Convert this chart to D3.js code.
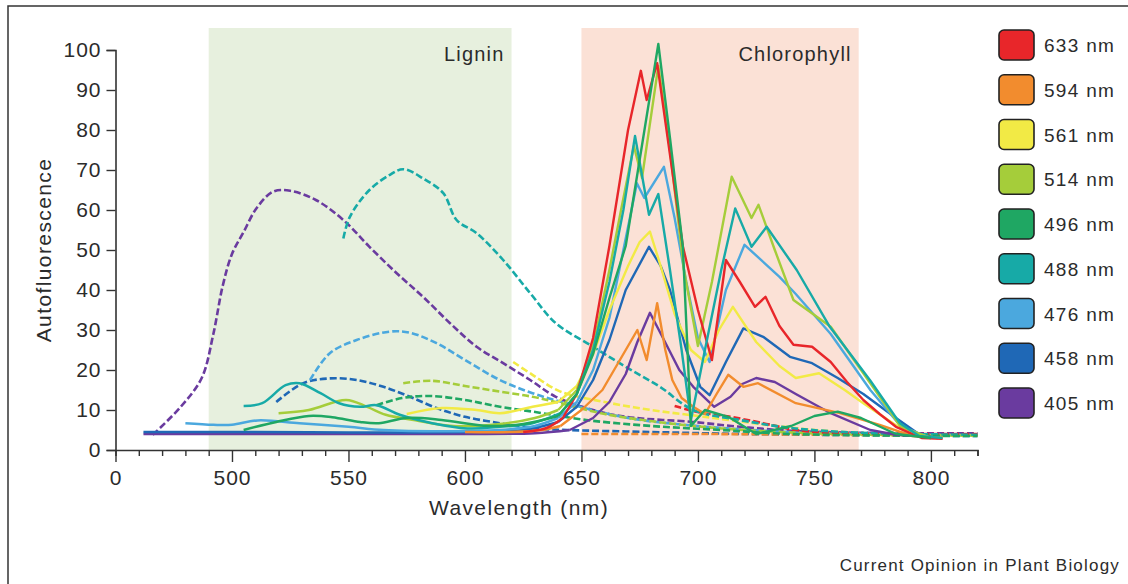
<!DOCTYPE html>
<html>
<head>
<meta charset="utf-8">
<script src="https://cdn.jsdelivr.net/npm/d3@7"></script>
<style>
  body { margin: 0; background: #fff; }
  svg { display: block; font-family: "Liberation Sans", Arial, sans-serif; }
</style>
</head>
<body>
<svg id="chart" width="1128" height="584"></svg>
<script>
// Laser lines (legend order) and their colours
const lasers = ["633 nm", "594 nm", "561 nm", "514 nm", "496 nm", "488 nm", "476 nm", "458 nm", "405 nm"];
const laserColors = ["#e8262a", "#f28c2e", "#f2ea45", "#a5cd3a", "#1fa763", "#17aaa7", "#4ba8de", "#1f68b6", "#6a3b9f"];

// Shaded emission bands
const bandNames = ["Lignin", "Chlorophyll"];
const bandStart = [490, 650];
const bandEnd = [620, 769];

// Axis ticks
const xTickValues = [450, 500, 550, 600, 650, 700, 750, 800];
const xTickLabels = ["0", "500", "550", "600", "650", "700", "750", "800"];
const yTickValues = [0, 10, 20, 30, 40, 50, 60, 70, 80, 90, 100];

// Solid spectra  [wavelength nm, autofluorescence]
const solid633 = [[625,4.5],[635,5.5],[642,8],[648,14],[655,28],[662,51],[670,80],[675.5,94.8],[678,87.5],[682.5,96.7],[687,78],[693.5,51],[700,35],[706,22.5],[712,47.5],[718,42],[724.5,35.8],[729,38.3],[735,31],[741,26.3],[749,25.8],[757,22],[764,17],[771,12.5],[778,9],[785,5.8],[796,3],[805,2.8]];
const solid594 = [[600,4.5],[620,4.5],[633,5],[641,6],[650,10],[659,15],[669,25],[674,30],[678,22.5],[682.5,36.7],[686,25],[689,17.5],[693,13],[698,10.8],[703,9],[708,14],[713,18.8],[719.5,15.8],[725.8,16.7],[742,11.7],[761,9.2],[778,6.3],[792,3.5],[805,3]];
const solid561 = [[575,9],[590,10.5],[605,10],[615,9.2],[629,10.8],[640,12],[648,16],[655,24],[662,35],[670,46],[675,52],[679.4,54.6],[684,46],[690,34],[697,25],[703,22],[709,30],[715,35.8],[725,27],[735,21],[742,18],[752,19.2],[763,15],[771,11.7],[788,5],[800,3]];
const solid514 = [[520,9.2],[533,10],[549,12.5],[558,10.8],[566,8.8],[578,7.5],[595,6],[615,6.5],[630,8],[640,10],[648,15],[655,26],[662,45],[667,60],[672.5,76],[676,68],[683,96],[688,75],[694,45],[700,26],[706,42],[714.5,68.3],[723,58],[726,61.3],[733,50],[741,37.5],[757,30.8],[774,16.7],[787,5.8],[800,3]];
const solid496 = [[505,5],[519,7],[533,8.5],[543,8.2],[555,7],[563,6.7],[575,8],[590,7.5],[610,6],[625,6.5],[640,8.5],[648,14],[655,24],[662,38],[669,51],[674,69],[683,101.5],[688,78],[693.5,51],[697,6],[703,10],[713,8.3],[725,4],[740,6],[750,8.5],[760,9.6],[770,8],[785,4],[800,3]];
const solid488 = [[505,11],[513,11.7],[523,16.2],[529,16.7],[538,14.2],[546,11.7],[555,10.8],[562,11.2],[572,8.8],[586,6.7],[601,5.4],[615,5.8],[629,6.7],[641,9.2],[648,14],[655,25],[662,42],[668,60],[673,78.5],[679,58.8],[683,64],[688,45],[693,25],[697,7.5],[703,25],[710,45],[716,60.4],[723,50.8],[729.5,55.8],[742.4,45],[756.6,30.8],[773.8,17.5],[786.7,6.7],[795,3.5],[805,3]];
const solid476 = [[480,6.7],[492,6.3],[500,6.3],[511,7.4],[529,6.7],[550,5.8],[565,5],[590,4.7],[615,5],[630,6],[640,8],[648,12],[655,20],[662,33],[668,50],[673.8,66.7],[677,63],[685.4,70.8],[690,58],[695,42],[700,28],[705,22],[712,40],[720,51.3],[735,43.3],[742,39],[757,29],[774,15],[787,6],[800,3]];
const solid458 = [[462,4.5],[500,4.5],[550,4.4],[600,4.5],[625,5],[640,7],[648,10.8],[655,17.5],[662,27.5],[669,40],[679,50.8],[684,46],[688,40],[695,25],[701,15.8],[705,13.7],[712,22],[719.5,30.4],[728,28.3],[739.5,23.3],[749,21.7],[760,18],[771,14],[785,8],[796,3.5],[803,3]];
const solid405 = [[462,4],[500,4],[550,4],[600,4],[630,4.2],[645,5],[655,8],[662,12],[669,19],[674,27],[679.4,34.3],[685,28],[692,20],[698,15.8],[707,10.8],[714,13.3],[719,16.5],[725,18],[733,17],[742,14],[757,9.2],[774,5],[785,3.8],[800,3.3]];

// Dashed spectra
const dashed633 = [[690,11],[700,9.5],[714,8.3],[728,6.7],[742,5],[760,4.2],[820,4]];
const dashed594 = [[650,4],[700,4],[760,3.8],[820,3.6]];
const dashed561 = [[620.7,22],[629,18.8],[641,14.6],[660,12],[680,10],[700,8.5],[720,7],[750,5],[780,4],[820,3.6]];
const dashed514 = [[573.5,16.7],[586,17.3],[600,16],[615,14.6],[629,13.3],[641,11.7],[660,9],[690,6.5],[720,5],[760,4],[820,3.6]];
const dashed496 = [[562,11.2],[573,13],[585,13.5],[600,12.5],[615,10.8],[629,9.6],[652,7.5],[680,6],[710,5],[740,4],[820,3.5]];
const dashed488 = [[547.8,52.9],[550.6,58.3],[559,65],[567.8,68.8],[573.5,70.2],[582,67.9],[590.7,64.2],[596.4,57.5],[605,54.2],[616.4,47.5],[628,39.2],[639,31.7],[655,25.8],[669,20.8],[683.7,15.8],[698,10],[718,7.5],[740,5.5],[770,4.3],[820,3.8]];
const dashed476 = [[533.5,17.5],[542,24.2],[553.5,27.5],[567.8,29.6],[576.4,29.3],[587.8,26.7],[600,22.5],[615,17.5],[629,14.2],[643.6,11.7],[670,8],[700,6],[740,4.5],[820,3.8]];
const dashed458 = [[519,12],[530.6,16.7],[542,17.9],[553.5,17.5],[565,15.8],[576.4,13.3],[587.8,10.5],[600,8.3],[615,6.7],[629,5.4],[644,5],[680,4.5],[720,4],[820,3.5]];
const dashed405 = [[466,3.8],[478,10.8],[487,18],[492,29],[496,41],[500,49],[505,54.5],[510.6,60.5],[517.7,64.6],[525,64.8],[536,62.5],[547.8,57.5],[559,50.8],[570.7,44.2],[582,38.3],[593.6,31.7],[605,25.8],[616.4,21.7],[628,17.5],[639,13.3],[655,10],[669,8.3],[698,7],[718,5.8],[740,4.8],[770,4.3],[820,4.2]];

const solidSeries = [solid633, solid594, solid561, solid514, solid496, solid488, solid476, solid458, solid405];
const dashedSeries = [dashed633, dashed594, dashed561, dashed514, dashed496, dashed488, dashed476, dashed458, dashed405];
// draw order (index into lasers), last one on top
const drawOrder = [8, 7, 6, 2, 1, 3, 0, 5, 4];

const svg = d3.select("#chart");
const textColor = "#2b2b2b";

// frame around the figure
svg.append("path")
    .attr("d", "M8,584V6H1128")
    .attr("fill", "none")
    .attr("stroke", "#333")
    .attr("stroke-width", 1.5);

const x = d3.scaleLinear().domain([450, 820]).range([115.5, 977.5]);
const y = d3.scaleLinear().domain([0, 100]).range([450, 50]);

// bands
const bandColors = ["#e7f0de", "#fbe1d6"];
svg.selectAll(".band")
    .data(bandNames)
    .enter().append("rect")
    .attr("class", "band")
    .attr("x", (d, i) => x(bandStart[i]))
    .attr("y", y(105.5))
    .attr("width", (d, i) => x(bandEnd[i]) - x(bandStart[i]))
    .attr("height", y(0) - y(105.5))
    .attr("fill", (d, i) => bandColors[i]);

svg.selectAll(".bandLabel")
    .data(bandNames)
    .enter().append("text")
    .attr("class", "bandLabel")
    .attr("x", (d, i) => x(bandEnd[i]) - 7)
    .attr("y", y(97.2))
    .attr("text-anchor", "end")
    .attr("font-size", 20)
    .attr("letter-spacing", 1.2)
    .attr("fill", textColor)
    .text(d => d);

// spectra: smooth in the lignin part, straight segments in the chlorophyll peaks
const smooth = d3.line()
    .x(d => x(d[0]))
    .y(d => y(d[1]))
    .curve(d3.curveCatmullRom.alpha(0.5));

const sharp = d3.line()
    .x(d => x(d[0]))
    .y(d => y(d[1]));

const splitAt = 640;

const gLines = svg.append("g");
drawOrder.forEach(i => {
    gLines.append("path")
        .datum(dashedSeries[i])
        .attr("fill", "none")
        .attr("stroke", laserColors[i])
        .attr("stroke-width", 2.6)
        .attr("stroke-dasharray", "7,3")
        .attr("d", smooth);
});
drawOrder.forEach(i => {
    const pts = solidSeries[i];
    const k = pts.findIndex(p => p[0] >= splitAt);
    const low = pts.slice(0, k + 1);
    const high = pts.slice(k);
    if (low.length > 1) {
        gLines.append("path")
            .datum(low)
            .attr("fill", "none")
            .attr("stroke", laserColors[i])
            .attr("stroke-width", 2.5)
            .attr("d", smooth);
    }
    gLines.append("path")
        .datum(high)
        .attr("fill", "none")
        .attr("stroke", laserColors[i])
        .attr("stroke-width", 2.4)
        .attr("stroke-linejoin", "round")
        .attr("d", sharp);
});

// x axis
const xAxis = d3.axisBottom(x)
    .tickValues(d3.range(450, 821, 10))
    .tickSize(6)
    .tickFormat(v => {
        const k = xTickValues.indexOf(v);
        return k >= 0 ? xTickLabels[k] : "";
    });

const gx = svg.append("g")
    .attr("transform", `translate(0,${y(0)})`)
    .call(xAxis);
gx.select(".domain").attr("stroke", "#333").attr("stroke-width", 1.6);
gx.selectAll(".tick line")
    .attr("stroke", "#333")
    .attr("stroke-width", 1.4)
    .attr("y2", v => xTickValues.includes(v) ? 12 : 6);
gx.selectAll(".tick text")
    .attr("y", 20)
    .attr("font-size", 21)
    .attr("letter-spacing", 1)
    .attr("fill", textColor)
    .attr("font-family", null);

// y axis
const yAxis = d3.axisLeft(y)
    .tickValues(yTickValues)
    .tickSize(9)
    .tickPadding(5);

const gy = svg.append("g")
    .attr("transform", `translate(${x(450)},0)`)
    .call(yAxis);
gy.select(".domain").attr("stroke", "#333").attr("stroke-width", 1.6);
gy.selectAll(".tick line").attr("stroke", "#333").attr("stroke-width", 1.4);
gy.selectAll(".tick text")
    .attr("font-size", 21)
    .attr("letter-spacing", 1)
    .attr("fill", textColor)
    .attr("font-family", null);

// axis titles
svg.append("text")
    .attr("x", 519)
    .attr("y", 515)
    .attr("text-anchor", "middle")
    .attr("font-size", 21)
    .attr("letter-spacing", 1.4)
    .attr("fill", textColor)
    .text("Wavelength (nm)");

svg.append("text")
    .attr("transform", "translate(51,250) rotate(-90)")
    .attr("text-anchor", "middle")
    .attr("font-size", 21)
    .attr("letter-spacing", 1.4)
    .attr("fill", textColor)
    .text("Autofluorescence");

// legend
const legend = svg.append("g").attr("transform", "translate(999,30)");
const items = legend.selectAll(".item")
    .data(lasers)
    .enter().append("g")
    .attr("class", "item")
    .attr("transform", (d, i) => `translate(0,${i * 44.75})`);
items.append("rect")
    .attr("width", 35)
    .attr("height", 30)
    .attr("rx", 5)
    .attr("fill", (d, i) => laserColors[i])
    .attr("stroke", "#222")
    .attr("stroke-width", 1.6);
items.append("text")
    .attr("x", 45)
    .attr("y", 22)
    .attr("font-size", 19)
    .attr("letter-spacing", 1.3)
    .attr("fill", textColor)
    .text(d => d);

// source note
svg.append("text")
    .attr("x", 1120)
    .attr("y", 571)
    .attr("text-anchor", "end")
    .attr("font-size", 17)
    .attr("letter-spacing", 1.2)
    .attr("fill", textColor)
    .text("Current Opinion in Plant Biology");
</script>
</body>
</html>
